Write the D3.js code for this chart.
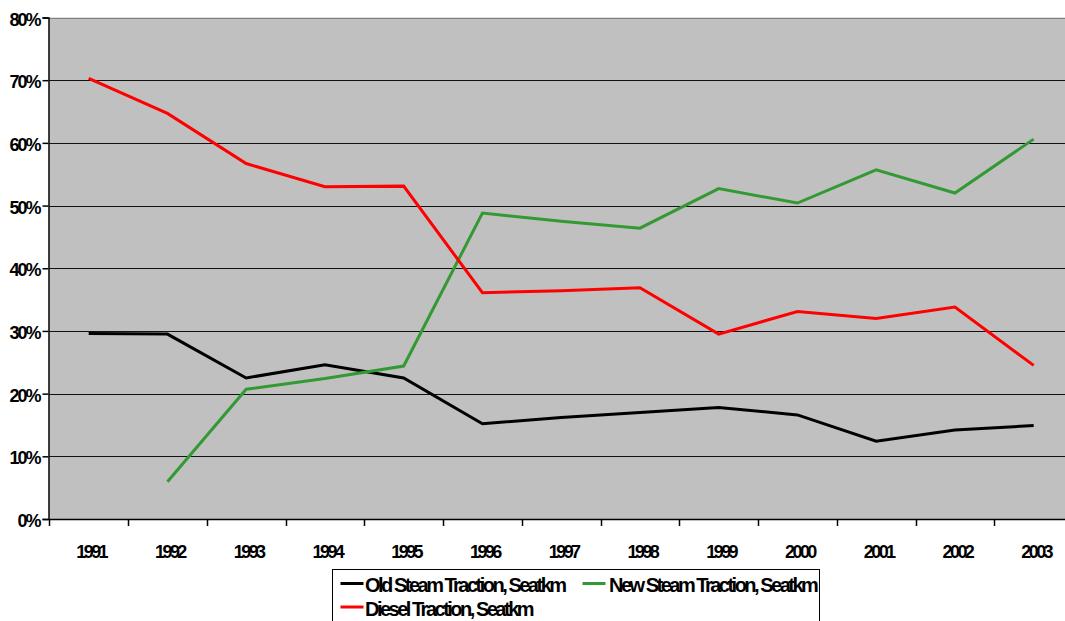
<!DOCTYPE html>
<html>
<head>
<meta charset="utf-8">
<script src="https://cdn.jsdelivr.net/npm/d3@7"></script>
<style>
  html, body { margin: 0; padding: 0; background: #fff; }
  svg { display: block; }
  text { font-family: "Liberation Sans", Arial, sans-serif; font-weight: bold; fill: #000; }
</style>
</head>
<body>
<svg id="chart" width="1065" height="621"></svg>
<script>
// Share of seat-km by traction type, 1991-2003
const years = ["1991","1992","1993","1994","1995","1996","1997","1998","1999","2000","2001","2002","2003"];
const oldSteam = [29.6, 29.5, 22.5, 24.6, 22.5, 15.2, 16.2, 17.0, 17.8, 16.6, 12.4, 14.2, 14.9];
const newSteam = [null, 5.95, 20.7, 22.4, 24.4, 48.8, 47.5, 46.4, 52.7, 50.4, 55.7, 52.0, 60.6];
const diesel   = [70.3, 64.7, 56.7, 53.0, 53.1, 36.1, 36.4, 36.9, 29.5, 33.1, 32.0, 33.8, 24.5];
const yTicks = [0, 10, 20, 30, 40, 50, 60, 70, 80];

const seriesNames = ["Old Steam Traction, Seatkm", "New Steam Traction, Seatkm", "Diesel Traction, Seatkm"];
const seriesColors = ["#000000", "#339933", "#ff0000"];
const series = [oldSteam, newSteam, diesel].map((vals, i) => ({
  name: seriesNames[i], color: seriesColors[i],
  values: vals.map((v, j) => ({ year: years[j], v }))
}));

const svg = d3.select("#chart");
const plotLeft = 49.3, plotTop = 17.5, plotBottom = 519, catStep = 78.75;

const x = d3.scaleBand().domain(years).range([plotLeft, plotLeft + catStep * years.length]).padding(0);
const y = d3.scaleLinear().domain([0, 80]).range([plotBottom, plotTop]);

// plot background
svg.append("rect")
  .attr("x", x.range()[0]).attr("y", y(80))
  .attr("width", x.range()[1] - x.range()[0]).attr("height", y(0) - y(80))
  .attr("fill", "#c0c0c0");

// top border
svg.append("line")
  .attr("x1", x.range()[0]).attr("x2", x.range()[1])
  .attr("y1", Math.round(y(80)) + 0.5).attr("y2", Math.round(y(80)) + 0.5)
  .attr("stroke", "#808080").attr("stroke-width", 1);

// horizontal gridlines
svg.append("g").selectAll("line")
  .data(yTicks.filter(t => t > 0 && t < 80))
  .join("line")
  .attr("x1", x.range()[0]).attr("x2", x.range()[1])
  .attr("y1", d => Math.round(y(d)) + 0.5).attr("y2", d => Math.round(y(d)) + 0.5)
  .attr("stroke", "#111").attr("stroke-width", 1);

// y axis
const yAxis = svg.append("g")
  .attr("transform", `translate(${Math.round(plotLeft) - 0.5},0)`)
  .call(d3.axisLeft(y).tickValues(yTicks).tickFormat(d => d + "%").tickSize(6).tickPadding(3));
yAxis.select(".domain").attr("stroke", "#000").attr("stroke-width", 1.5);
yAxis.selectAll(".tick line").attr("stroke", "#000").attr("stroke-width", 1.5);
yAxis.selectAll(".tick text")
  .attr("font-size", "18px").attr("letter-spacing", "-2px")
  .attr("dy", "0.42em")
  .style("font-family", "'Liberation Sans', Arial, sans-serif").style("font-weight", "bold");

// x axis line
svg.append("line")
  .attr("x1", x.range()[0]).attr("x2", x.range()[1])
  .attr("y1", Math.round(y(0)) + 0.5).attr("y2", Math.round(y(0)) + 0.5)
  .attr("stroke", "#000").attr("stroke-width", 1.5);

// category boundary ticks
const bounds = years.map(yr => x(yr)).concat([x.range()[1]]);
svg.append("g").selectAll("line")
  .data(bounds)
  .join("line")
  .attr("x1", d => Math.round(d) + 0.5).attr("x2", d => Math.round(d) + 0.5)
  .attr("y1", y(0)).attr("y2", y(0) + 7)
  .attr("stroke", "#000").attr("stroke-width", 1.5);

// year labels
svg.append("g").selectAll("text")
  .data(years)
  .join("text")
  .attr("x", d => x(d) + x.bandwidth() / 2 + 2.5)
  .attr("y", 558)
  .attr("text-anchor", "middle")
  .attr("font-size", "18px").attr("letter-spacing", "-2.6px")
  .text(d => d);

// series lines
const line = d3.line()
  .defined(d => d.v !== null)
  .x(d => x(d.year) + x.bandwidth() / 2)
  .y(d => y(d.v));

svg.append("g").selectAll("path")
  .data(series)
  .join("path")
  .attr("d", s => line(s.values))
  .attr("fill", "none")
  .attr("stroke", s => s.color)
  .attr("stroke-width", 3)
  .attr("stroke-linejoin", "miter");

// legend
const legend = svg.append("g");
legend.append("rect")
  .attr("x", 332.5).attr("y", 569.5).attr("width", 487).attr("height", 80)
  .attr("fill", "#fff").attr("stroke", "#000").attr("stroke-width", 1);

const legendPos = [
  { lx: 340.5, ly: 583.5, tx: 365 },
  { lx: 582.5, ly: 583.5, tx: 609 },
  { lx: 340.5, ly: 607,   tx: 365 }
];
const items = legend.selectAll("g.item")
  .data(series)
  .join("g").attr("class", "item")
  .attr("transform", (s, i) => `translate(${legendPos[i].lx},${legendPos[i].ly})`);
items.append("line")
  .attr("x1", 0).attr("x2", 23).attr("y1", 0).attr("y2", 0)
  .attr("stroke", s => s.color).attr("stroke-width", 3);
items.append("text")
  .attr("x", (s, i) => legendPos[i].tx - legendPos[i].lx)
  .attr("y", 8.5)
  .attr("font-size", "20px").attr("letter-spacing", "-2.5px")
  .text(s => s.name);
</script>
</body>
</html>
